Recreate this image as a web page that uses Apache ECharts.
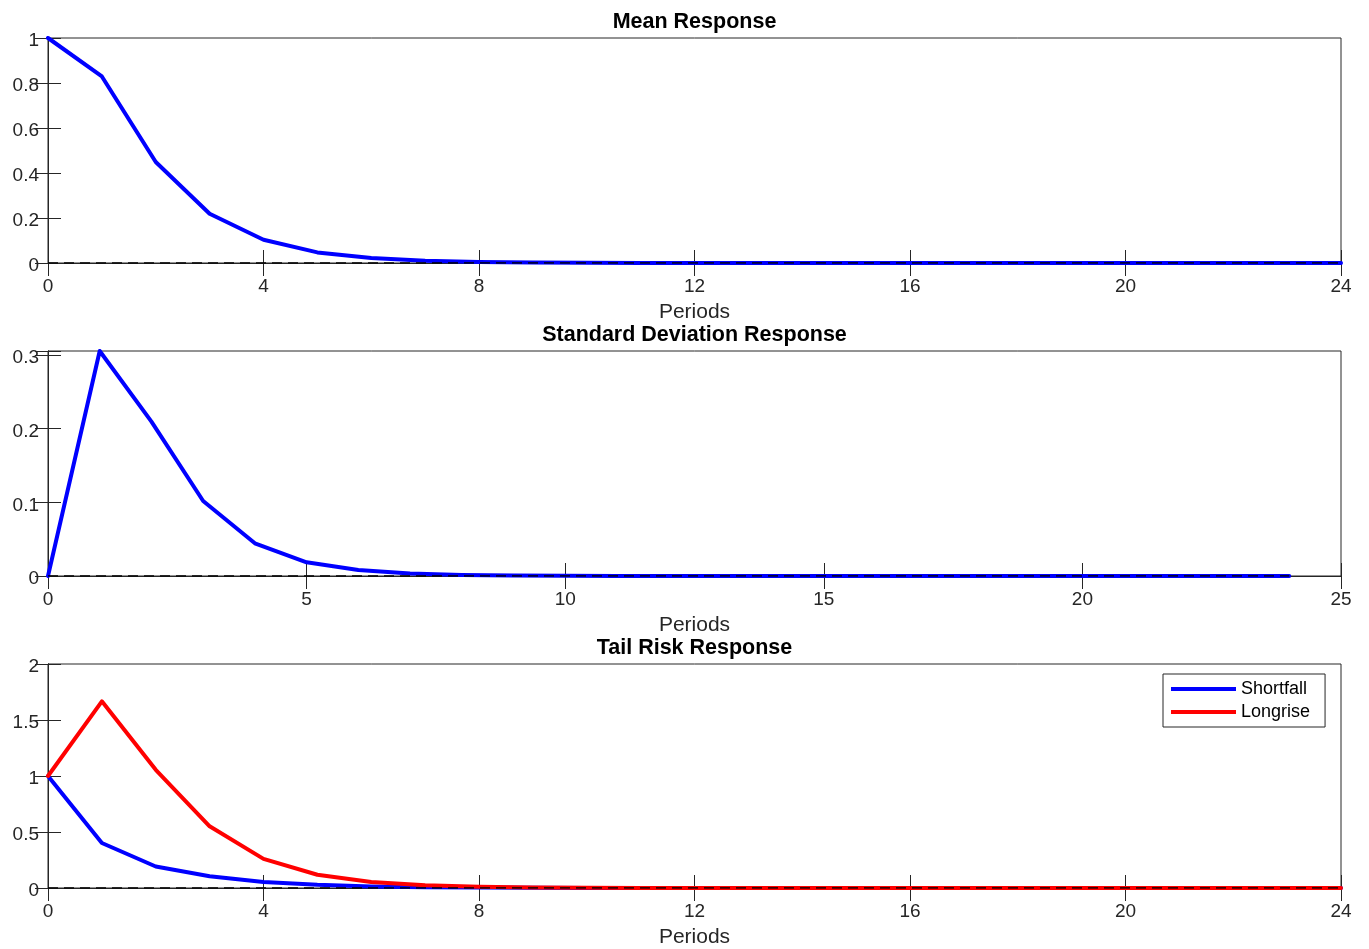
<!DOCTYPE html>
<html>
<head>
<meta charset="utf-8">
<script src="https://cdn.jsdelivr.net/npm/echarts@6/dist/echarts.min.js"></script>
<style>html,body{margin:0;padding:0;background:#fff;}#c{width:1369px;height:949px;}</style>
</head>
<body>
<div id="c"></div>
<script>
const periods = [0,1,2,3,4,5,6,7,8,9,10,11,12,13,14,15,16,17,18,19,20,21,22,23,24];
const meanResp = [1,0.829,0.449,0.219,0.1035,0.047,0.022,0.010,0.0045,0.002,0.001,0.0004,0.0002,0.0001,0,0,0,0,0,0,0,0,0,0,0];
const sdResp = [0,0.3054,0.2095,0.1018,0.0444,0.0186,0.0081,0.0035,0.0015,0.0006,0.0003,0.0001,0,0,0,0,0,0,0,0,0,0,0,0,0];
const shortfall = [1,0.402,0.192,0.105,0.054,0.028,0.014,0.007,0.0035,0.0017,0.0008,0.0004,0.0002,0.0001,0,0,0,0,0,0,0,0,0,0,0];
const longrise = [1,1.667,1.055,0.551,0.26,0.118,0.053,0.024,0.011,0.005,0.0022,0.001,0.0004,0.0002,0.0001,0,0,0,0,0,0,0,0,0,0];
const titles = ['Mean Response','Standard Deviation Response','Tail Risk Response'];
const xTicks = [{min:0,max:24,interval:4},{min:0,max:25,interval:5},{min:0,max:24,interval:4}];
const yTicks = [{min:0,max:1,interval:0.2},{min:0,max:0.3054,interval:0.1},{min:0,max:2,interval:0.5}];
const xLabel = 'Periods';

const FONT = '"Liberation Sans", Arial, Helvetica, sans-serif';
const AX = '#262626';
const gridTops = [38, 351, 664];
const titleTops = [6, 319, 632];
const gridH = 225;

const pairs = (ys) => periods.map((p,i)=>[p, ys[i]]);
const fmt = (v) => {
  const r = Math.round(v*10)/10;
  if (Math.abs(v - Math.round(v*2)/2) < 1e-9 || Math.abs(v - r) < 1e-9) {
    return '{p|' + String(parseFloat(v.toFixed(2))) + '}';
  }
  return '';
};

const grid = [], xAxis = [], yAxis = [], series = [], title = [];
for (let i = 0; i < 3; i++) {
  grid.push({left:48, width:1293, top:gridTops[i], height:gridH, show:true, borderColor:AX, borderWidth:1, backgroundColor:'#fff'});
  title.push({text:titles[i], left:689.5, textAlign:'center', top:titleTops[i],
    textStyle:{fontFamily:FONT, fontSize:21.5, fontWeight:'bold', color:'#000'}});
  const xb = {type:'value', gridIndex:i, min:xTicks[i].min, max:xTicks[i].max, interval:xTicks[i].interval,
    axisLine:{show:true, lineStyle:{color:AX, width:1}},
    axisTick:{show:true, inside:true, length:13, lineStyle:{color:AX}},
    splitLine:{show:false}};
  xAxis.push(Object.assign({}, xb, {position:'bottom',
    axisLabel:{color:AX, fontFamily:FONT, fontSize:19, margin:14},
    name:xLabel, nameLocation:'middle', nameGap:39,
    nameTextStyle:{fontFamily:FONT, fontSize:21, color:AX}}));
  xAxis.push(Object.assign({}, xb, {position:'top', axisLabel:{show:false}}));
  const yb = {type:'value', gridIndex:i, min:yTicks[i].min, max:yTicks[i].max, interval:yTicks[i].interval,
    axisLine:{show:true, lineStyle:{color:AX, width:1}},
    axisTick:{show:true, inside:true, length:13, lineStyle:{color:AX}},
    splitLine:{show:false}};
  yAxis.push(Object.assign({}, yb, {position:'left',
    axisLabel:{color:AX, fontFamily:FONT, fontSize:19, margin:9, formatter:fmt,
      rich:{p:{fontFamily:FONT, fontSize:19, color:AX, padding:[6,0,0,0]}}}}));
  yAxis.push(Object.assign({}, yb, {position:'right', axisLabel:{show:false}}));
}

const lineS = (name, gi, ys, color, z) => ({
  name:name, type:'line', xAxisIndex:2*gi, yAxisIndex:2*gi, data:pairs(ys),
  symbol:'none', showSymbol:false, clip:true, z:z,
  lineStyle:{color:color, width:4, cap:'round', join:'round'}, itemStyle:{color:color}
});
const zeroS = (gi) => ({
  name:'zero'+gi, type:'line', xAxisIndex:2*gi, yAxisIndex:2*gi,
  data:[[periods[0],0],[periods[periods.length-1],0]], symbol:'none', z:5, silent:true,
  lineStyle:{color:'#000', width:1.3, type:[10,6]}
});

series.push(lineS('Mean', 0, meanResp, '#0000FF', 3));
series.push(zeroS(0));
series.push(lineS('Std', 1, sdResp, '#0000FF', 3));
series.push(zeroS(1));
series.push(lineS('Shortfall', 2, shortfall, '#0000FF', 3));
series.push(lineS('Longrise', 2, longrise, '#FF0000', 4));
series.push(zeroS(2));

const chart = echarts.init(document.getElementById('c'), null, {renderer:'canvas'});
chart.setOption({
  animation:false,
  backgroundColor:'#fff',
  title:title,
  grid:grid, xAxis:xAxis, yAxis:yAxis, series:series,
  legend:{data:['Shortfall','Longrise'], orient:'vertical', left:1163, top:674,
    itemWidth:65, itemHeight:4, icon:'rect', itemGap:5, padding:[6,15,6,8],
    borderColor:AX, borderWidth:1, backgroundColor:'#fff',
    textStyle:{fontFamily:FONT, fontSize:18, color:'#000'}}
});
</script>
</body>
</html>
